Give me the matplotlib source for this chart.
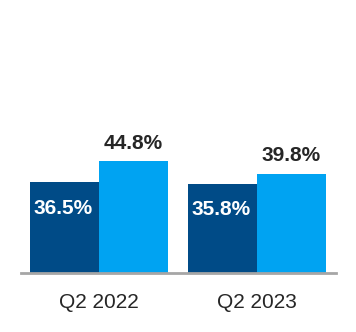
import matplotlib.pyplot as plt
import numpy as np

# data
categories = ["Q2 2022", "Q2 2023"]
series_a = [36.5, 35.8]   # dark bars
series_b = [44.8, 39.8]   # light bars

DARK = "#004B87"
LIGHT = "#00A3F2"

plt.rcParams["font.family"] = ["Liberation Sans", "DejaVu Sans"]

fig = plt.figure(figsize=(3.56, 3.32), dpi=100)
ax = fig.add_axes([21 / 356, 1 - 273.3 / 332, 315 / 356, 273.3 / 332])

x = np.arange(len(categories))
w = 0.437

bars_a = ax.bar(x - w / 2, series_a, w, color=DARK)
bars_b = ax.bar(x + w / 2, series_b, w, color=LIGHT)

# labels inside the dark bars, above the light ones
for xi, v in zip(x, series_a):
    ax.text(xi - w / 2 - 0.01, v * 0.71, f"{v}%", ha="center", va="center",
            color="white", fontsize=15, fontweight="bold")
for xi, v in zip(x, series_b):
    ax.annotate(f"{v}%", (xi + w / 2, v), xytext=(0, 6), textcoords="offset points",
                ha="center", va="bottom", color="#262626", fontsize=15, fontweight="bold")

ax.set_xlim(-0.494, 1.5)
ax.set_ylim(0, 109.3)

ax.set_xticks(x)
ax.set_xticklabels(categories, fontsize=15, color="#262626")
ax.tick_params(axis="x", length=0, pad=14)
ax.set_yticks([])

for s in ["top", "left", "right"]:
    ax.spines[s].set_visible(False)
ax.spines["bottom"].set_color("#A6A6A6")
ax.spines["bottom"].set_linewidth(2)

fig.savefig("out.png", dpi=100)
